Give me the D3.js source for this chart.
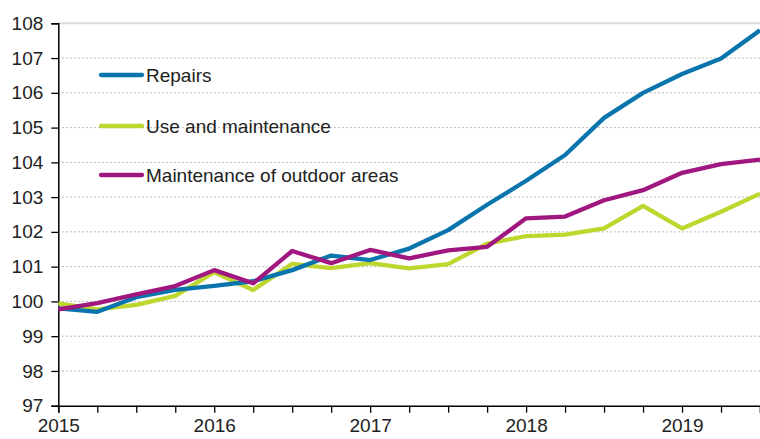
<!DOCTYPE html>
<html><head><meta charset="utf-8">
<script src="https://cdn.jsdelivr.net/npm/d3@7"></script>
<style>body{margin:0;background:#fff}svg{display:block}text{font-family:"Liberation Sans",Arial,sans-serif;fill:#222}</style>
</head><body><svg id="c" width="760" height="439"></svg>
<script>
const quarters = ["2015Q1","2015Q2","2015Q3","2015Q4","2016Q1","2016Q2","2016Q3","2016Q4","2017Q1","2017Q2","2017Q3","2017Q4","2018Q1","2018Q2","2018Q3","2018Q4","2019Q1","2019Q2","2019Q3"];
const yearLabels = ["2015","2016","2017","2018","2019"];
const yTicks = [97,98,99,100,101,102,103,104,105,106,107,108];
const seriesNames = ["Repairs","Use and maintenance","Maintenance of outdoor areas"];
const repairs = [99.80,99.70,100.12,100.33,100.45,100.58,100.90,101.32,101.19,101.52,102.05,102.78,103.47,104.21,105.28,106.00,106.54,106.99,107.80];
const useMaint = [99.94,99.77,99.90,100.16,100.84,100.33,101.08,100.96,101.10,100.95,101.07,101.66,101.88,101.92,102.10,102.75,102.10,102.58,103.10];
const outdoor = [99.77,99.95,100.20,100.44,100.90,100.52,101.45,101.10,101.48,101.24,101.47,101.57,102.39,102.44,102.91,103.20,103.70,103.95,104.08];
const colors = ["#0a75ad","#bfd62f","#a0177f"];
const data = [repairs,useMaint,outdoor];

const svg = d3.select("#c");
const x = d3.scaleLinear().domain([0,quarters.length-1]).range([58.3,760]);
const y = d3.scaleLinear().domain([97,108]).range([405.7,23.3]);

svg.append("g").selectAll("line").data(yTicks.filter(d=>d>97)).join("line")
  .attr("x1",58).attr("x2",760).attr("y1",d=>y(d)).attr("y2",d=>y(d))
  .attr("stroke",d=>d===108?"#dcdcdc":"#bdbdbd")
  .attr("stroke-width",d=>d===108?2:1)
  .attr("stroke-dasharray",d=>d===108?null:"2,2");

const yAxis = d3.axisLeft(y).tickValues(yTicks).tickSize(7).tickPadding(8).tickFormat(d3.format("d"));
const ga = svg.append("g").attr("transform","translate(58.3,0)").call(yAxis);
ga.select(".domain").attr("stroke","#000").attr("stroke-width",1.5);
ga.selectAll(".tick line").attr("stroke","#000").attr("stroke-width",1.3);
ga.selectAll(".tick text").style("font-size","19px").attr("fill","#222");

const xAxis = d3.axisBottom(x).tickValues(d3.range(quarters.length)).tickSize(7).tickPadding(6)
  .tickFormat(i => quarters[i].endsWith("Q1") ? yearLabels[yearLabels.indexOf(quarters[i].slice(0,4))] : "");
const gx = svg.append("g").attr("transform",`translate(0,${y(97)})`).call(xAxis);
gx.select(".domain").attr("stroke","#000").attr("stroke-width",1.5);
gx.selectAll(".tick line").attr("stroke","#000").attr("stroke-width",1.3);
gx.selectAll(".tick text").style("font-size","19px").attr("fill","#222");

const line = d3.line().x((d,i)=>x(i)).y(d=>y(d));
[1,0,2].forEach(k=>{
  svg.append("path").datum(data[k]).attr("d",line).attr("fill","none")
    .attr("stroke",colors[k]).attr("stroke-width",4.3).attr("stroke-linejoin","round");
});

const legY = [75,126,175];
seriesNames.forEach((n,k)=>{
  svg.append("line").attr("x1",101).attr("x2",142).attr("y1",legY[k]).attr("y2",legY[k])
    .attr("stroke",colors[k]).attr("stroke-width",4.3).attr("stroke-linecap","round");
  svg.append("text").attr("x",146).attr("y",legY[k]).attr("dy","0.35em").style("font-size","19px").text(n);
});
</script></body></html>
